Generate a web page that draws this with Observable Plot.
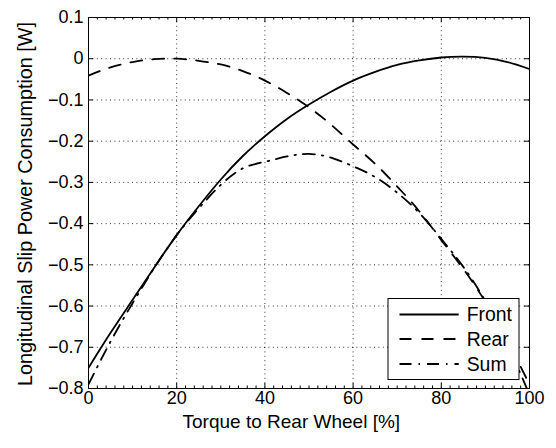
<!DOCTYPE html>
<html><head><meta charset="utf-8">
<script src="https://cdn.jsdelivr.net/npm/d3@7"></script>
<script src="https://cdn.jsdelivr.net/npm/@observablehq/plot@0.6"></script>
<style>
body{margin:0;background:#fff;}
#wrap{position:relative;width:556px;height:448px;}
</style></head><body><div id="wrap"></div>
<script>
// ---- data ----
const torque = [0,5,10,15,20,25,30,35,40,45,50,55,60,65,70,75,80,85,90,95,100];
const front  = [-0.750,-0.665,-0.585,-0.505,-0.428,-0.358,-0.293,-0.236,-0.188,-0.146,-0.111,-0.080,-0.053,-0.032,-0.015,-0.004,0.003,0.005,0.002,-0.008,-0.025];
const rear   = [-0.041,-0.021,-0.008,-0.001,0.000,-0.005,-0.014,-0.030,-0.053,-0.083,-0.118,-0.160,-0.208,-0.255,-0.310,-0.370,-0.440,-0.510,-0.590,-0.685,-0.790];
const total  = [-0.790,-0.686,-0.593,-0.506,-0.428,-0.363,-0.306,-0.266,-0.250,-0.237,-0.231,-0.240,-0.261,-0.287,-0.325,-0.374,-0.437,-0.505,-0.588,-0.693,-0.815];
const seriesNames = ["Front","Rear","Sum"];
const xTicks = [0,20,40,60,80,100];
const yTicks = [0.1,0,-0.1,-0.2,-0.3,-0.4,-0.5,-0.6,-0.7,-0.8];
const xLabel = "Torque to Rear Wheel [%]";
const yLabel = "Longitudinal Slip Power Consumption [W]";

// ---- layout / style ----
const W = 556, H = 448, mL = 88, mR = 27, mT = 17, mB = 60;
const innerW = W - mL - mR, innerH = H - mT - mB;
const font = "'Liberation Sans', Arial, Helvetica, sans-serif";
const dashes = {Front: null, Rear: "12,10", Sum: "12,7,1.5,7"};
const lw = 1.8;

const seriesValues = [front, rear, total];
const rows = [];
seriesNames.forEach((name, i) => torque.forEach((t, j) => rows.push({series: name, x: t, y: seriesValues[i][j]})));
const xMinor = d3.range(0, 101, 2).filter(v => v % 20 !== 0);

const fmtY = d => d === 0 ? "0" : d3.format(".1f")(d);

const marks = [
  Plot.gridX(xTicks, {stroke: "black", strokeOpacity: 0.8, strokeWidth: 1, strokeDasharray: "1,3.4"}),
  Plot.gridY(yTicks, {stroke: "black", strokeOpacity: 0.8, strokeWidth: 1, strokeDasharray: "1,3.4"}),
];
seriesNames.forEach(name => {
  marks.push(Plot.line(rows.filter(r => r.series === name), {
    x: "x", y: "y", curve: "natural", stroke: "black", strokeWidth: lw,
    strokeDasharray: dashes[name], clip: true
  }));
});
marks.push(
  Plot.frame({stroke: "black", strokeWidth: 1}),
  Plot.tickX(xTicks, {x: d => d, insetTop: innerH - 5, stroke: "black"}),
  Plot.tickX(xTicks, {x: d => d, insetBottom: innerH - 5, stroke: "black"}),
  Plot.tickX(xMinor, {x: d => d, insetTop: innerH - 2.5, stroke: "black"}),
  Plot.tickX(xMinor, {x: d => d, insetBottom: innerH - 2.5, stroke: "black"}),
  Plot.tickY(yTicks, {y: d => d, insetRight: innerW - 5, stroke: "black"}),
  Plot.tickY(yTicks, {y: d => d, insetLeft: innerW - 5, stroke: "black"}),
  Plot.axisX(xTicks, {tickSize: 0, tickPadding: 3, label: null, fontSize: 18}),
  Plot.axisY(yTicks, {tickSize: 0, tickPadding: 5, label: null, fontSize: 18, tickFormat: fmtY}),
  Plot.text([xLabel], {frameAnchor: "bottom", textAnchor: "middle", lineAnchor: "middle", text: d => d, dy: 33, dx: -17.7, fontSize: 19}),
  Plot.text([yLabel], {frameAnchor: "left", textAnchor: "middle", lineAnchor: "middle", text: d => d, rotate: -90, dx: -62.8, dy: 1, fontSize: 19.8})
);

const chart = Plot.plot({
  width: W, height: H, marginLeft: mL, marginRight: mR, marginTop: mT, marginBottom: mB,
  style: {fontFamily: font, fontSize: "18px", background: "white", color: "black"},
  x: {domain: [0, 100]},
  y: {domain: [-0.8, 0.1]},
  marks
});
const wrap = document.getElementById("wrap");
wrap.appendChild(chart);

// ---- legend (overlay) ----
const legBox = {x: 388, y: 298.5, w: 131, h: 81};
const legRowY = [314.5, 339, 364];
const leg = d3.create("svg").attr("width", W).attr("height", H)
  .style("position", "absolute").style("left", "0px").style("top", "0px")
  .style("font-family", font);
leg.append("rect").attr("x", legBox.x).attr("y", legBox.y).attr("width", legBox.w).attr("height", legBox.h)
  .attr("fill", "white").attr("stroke", "black").attr("stroke-width", 1);
seriesNames.forEach((name, i) => {
  const g = leg.append("g");
  g.append("line").attr("x1", 399.5).attr("x2", 458.7).attr("y1", legRowY[i]).attr("y2", legRowY[i])
    .attr("stroke", "black").attr("stroke-width", lw).attr("stroke-dasharray", dashes[name]);
  g.append("text").attr("x", 466.7).attr("y", legRowY[i]).attr("dy", "0.35em")
    .attr("font-size", 19.4).attr("fill", "black").text(name);
});
wrap.appendChild(leg.node());
</script></body></html>
